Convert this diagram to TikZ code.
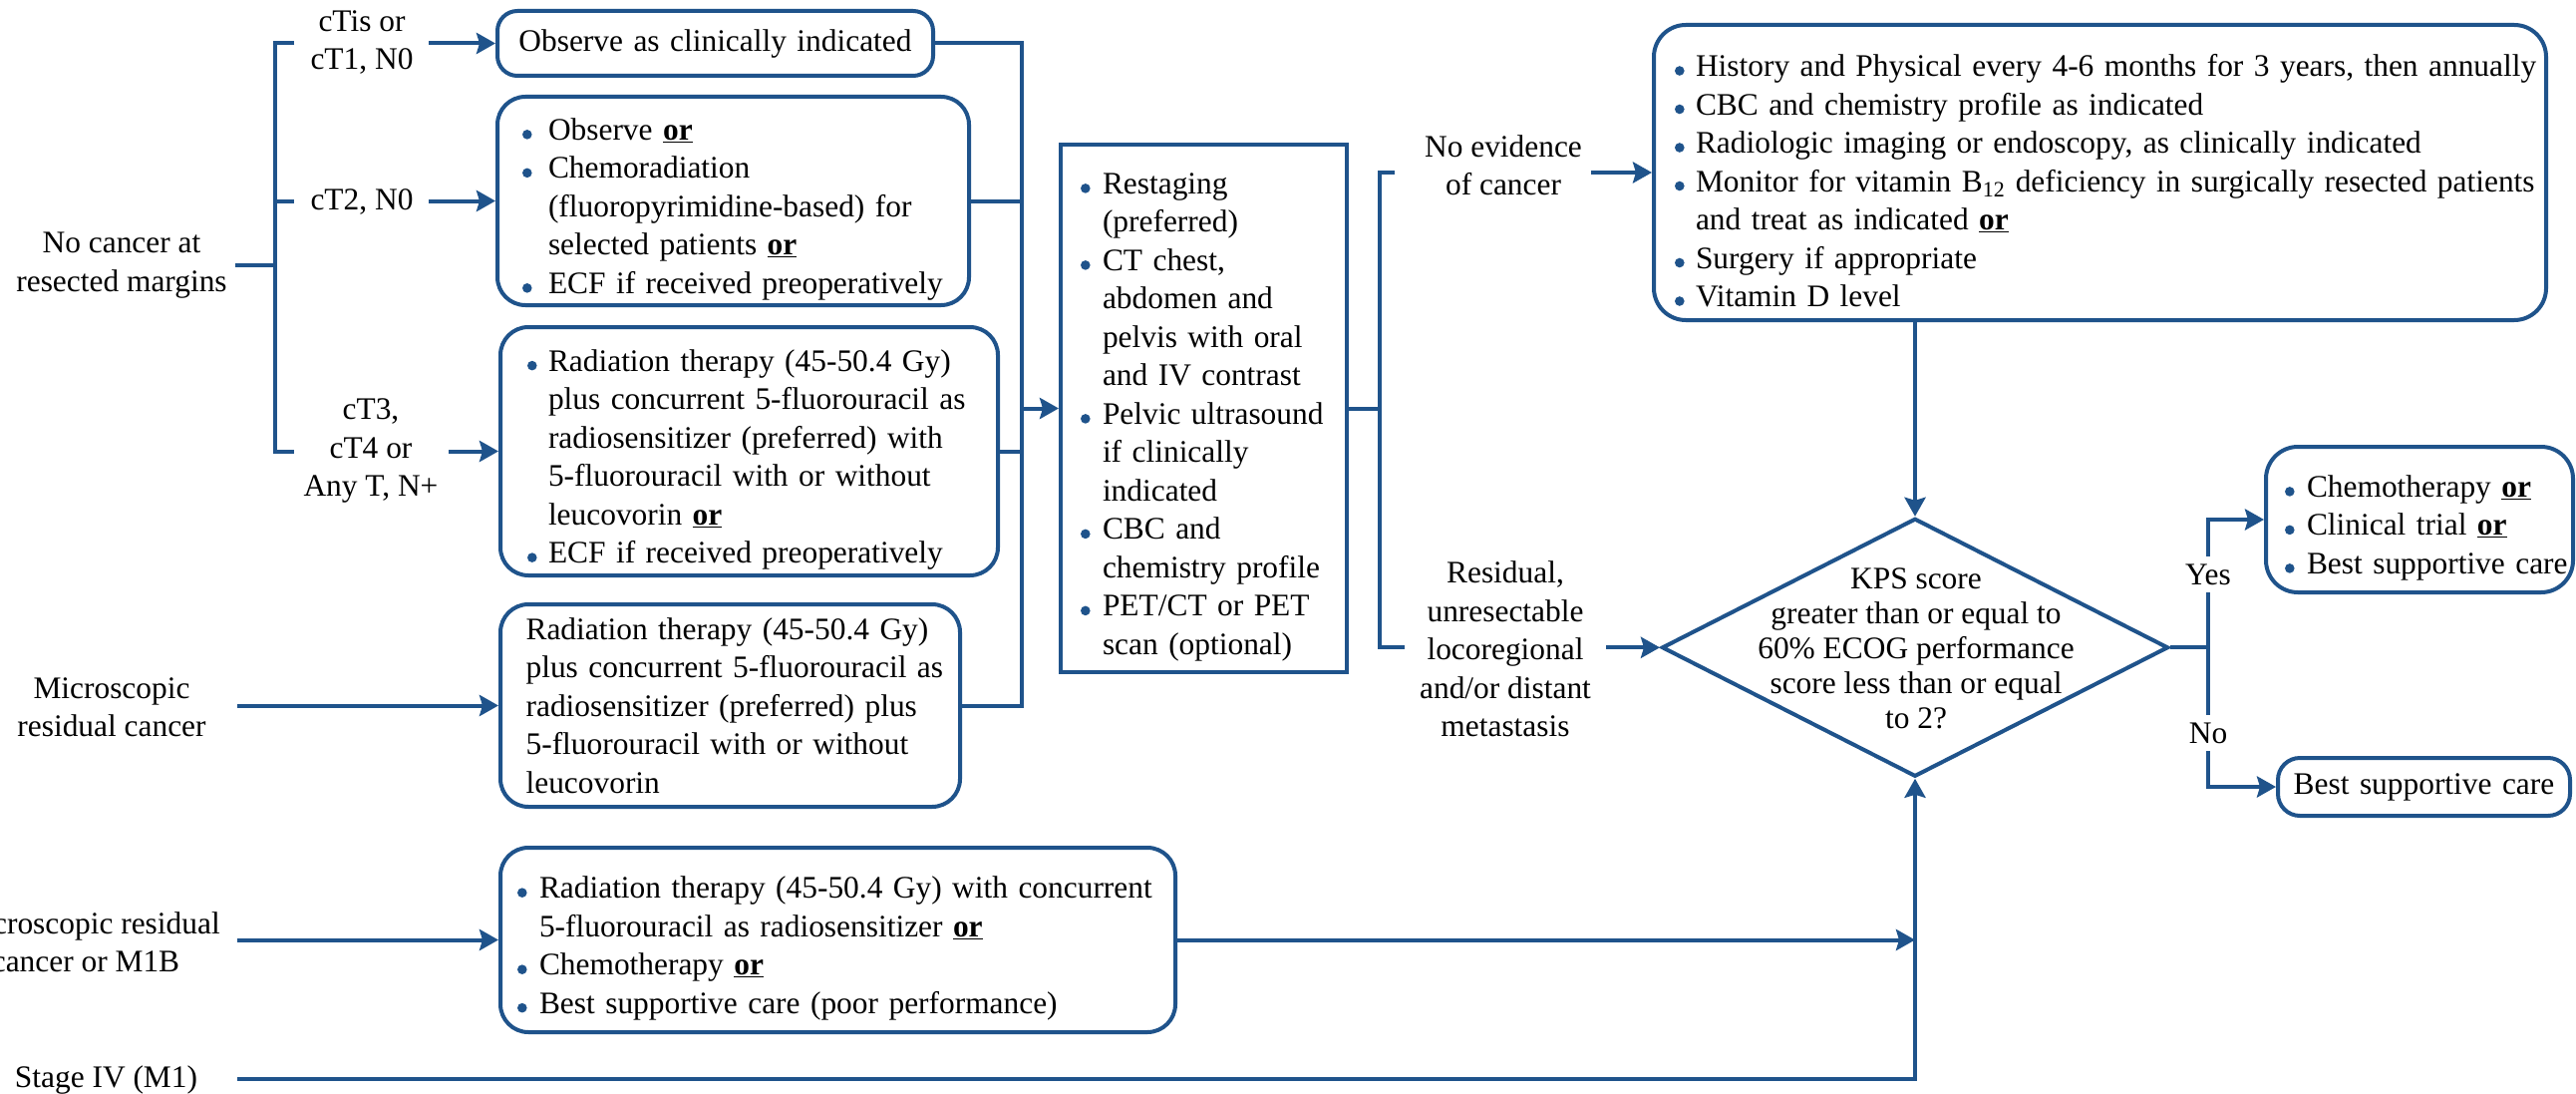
\documentclass[tikz,border=0pt]{standalone}
\usepackage{fontspec}
\setmainfont{Liberation Serif}
\usetikzlibrary{arrows.meta,shapes.geometric}
\definecolor{nblue}{RGB}{31,83,139}

% bullet lists inside the panels
\newlength{\bulw}
\newcommand{\bdot}{\tikz[baseline=0pt]\fill[nblue](0pt,5.5pt) circle[radius=4.8pt];}
\newcommand{\itm}{\par\noindent\hangindent=\bulw\hangafter=1\makebox[\bulw][l]{\bdot}}
\newcommand{\orb}{\underline{\textbf{or}}}
% left margin and bullet width of a panel; lines never wrap on their own
\newcommand{\inset}[2]{\leftskip=#1pt\rightskip=-60pt plus 1fil\hyphenpenalty=10000\setlength{\bulw}{#2pt}}

\begin{document}
\begin{tikzpicture}[x=1pt,y=-1pt,
  txt/.style={font=\fontsize{31.4}{38.5}\selectfont},
  panel/.style 2 args={draw=nblue,line width=4pt,rounded corners=28pt,
    inner xsep=0pt,inner ysep=0pt,align=left,txt,
    minimum width=#1pt,text width=#1pt,minimum height=#2pt},
  lbl/.style={inner sep=0pt,align=center,txt},
  ln/.style={draw=nblue,line width=4pt},
  arr/.style={ln,-{Stealth[length=19pt,width=21pt,inset=3pt]}},
  dia/.style={draw=nblue,line width=4pt,shape=diamond,inner sep=0pt,
    minimum width=508pt,minimum height=259pt}
]
\fill[white] (0,0) rectangle (2584,1097);
\useasboundingbox (0,0) rectangle (2584,1097);

% ---------- left column: entry conditions ----------
\node[lbl] (nocancer) at (122,266) {No cancer at\\resected margins};
\node[lbl] (ctis) at (363,42.3) {cTis or\\cT1, N0};
\node[lbl] (ct2) at (363,202) {cT2, N0};
\node[lbl] (ct3) at (372,452) {cT3,\\cT4 or\\Any T, N+};
\node[lbl] (micro) at (112,709.5) {Microscopic\\residual cancer};
\node[lbl] (macro) at (86,945) {Macroscopic residual\\cancer or M1B};
\node[lbl] (stage) at (106.5,1083) {Stage IV (M1)};

% ---------- first-line treatment panels ----------
\node[panel={437}{65},rounded corners=20pt,align=center] (obs) at (717.5,43.5)
  {Observe as clinically indicated};

\node[panel={473}{209}] (ctwo) at (735.5,201.5) {\inset{25}{26}%
\itm Observe \orb
\itm Chemoradiation\newline (fluoropyrimidine-based) for\newline selected patients \orb
\itm ECF if received preoperatively\par};

\node[panel={499}{249}] (cthree) at (751.5,452.5) {\inset{27}{21}%
\itm Radiation therapy (45-50.4 Gy)\newline plus concurrent 5-fluorouracil as\newline radiosensitizer (preferred) with\newline 5-fluorouracil with or without\newline leucovorin \orb
\itm ECF if received preoperatively\par};

\node[panel={461}{203}] (micbox) at (732.5,707.5) {\inset{25.6}{0}%
Radiation therapy (45-50.4 Gy)\newline plus concurrent 5-fluorouracil as\newline radiosensitizer (preferred) plus\newline 5-fluorouracil with or without\newline leucovorin\par};

\node[panel={677}{185}] (macbox) at (840.5,942.5) {\inset{17}{22}%
\itm Radiation therapy (45-50.4 Gy) with concurrent\newline 5-fluorouracil as radiosensitizer \orb
\itm Chemotherapy \orb
\itm Best supportive care (poor performance)\par};

% ---------- restaging ----------
\node[panel={287}{529},sharp corners] (restage) at (1207.5,409.5) {\inset{20}{22}%
\itm Restaging\newline (preferred)
\itm CT chest,\newline abdomen and\newline pelvis with oral\newline and IV contrast
\itm Pelvic ultrasound\newline if clinically\newline indicated
\itm CBC and\newline chemistry profile
\itm PET/CT or PET\newline scan (optional)\par};

% ---------- outcomes ----------
\node[lbl] (noevid) at (1508,166) {No evidence\\of cancer};
\node[lbl] (resid) at (1510,651) {Residual,\\unresectable\\locoregional\\and/or distant\\metastasis};

\node[panel={895}{296},rounded corners=32pt] (follow) at (2106.5,173) {\inset{21}{21}%
\itm History and Physical every 4-6 months for 3 years, then annually
\itm CBC and chemistry profile as indicated
\itm Radiologic imaging or endoscopy, as clinically indicated
\itm Monitor for vitamin B\textsubscript{12} deficiency in surgically resected patients\newline and treat as indicated \orb
\itm Surgery if appropriate
\itm Vitamin D level\par};

\node[dia] (kps) at (1921,649.3) {};
\node[lbl,font=\fontsize{31.4}{35}\selectfont] (kpst) at (1922,650)
  {KPS score\\greater than or equal to\\60\% ECOG performance\\score less than or equal\\to 2?};

\node[panel={308}{146},rounded corners=32pt] (yesbox) at (2427,521) {\inset{19}{22}%
\itm Chemotherapy \orb
\itm Clinical trial \orb
\itm Best supportive care\par};

\node[panel={293}{58},rounded corners=22pt,align=center] (nobox) at (2431.5,789)
  {Best supportive care};

% ---------- connectors ----------
% bracket after "No cancer at resected margins"
\coordinate (bk) at (276,0);
\draw[ln] ([xshift=8pt]nocancer.east) -- (bk |- nocancer);
\draw[ln] ([xshift=19pt]bk |- obs) -- (bk |- obs) -- (bk |- cthree) -- ([xshift=19pt]bk |- cthree);
\draw[ln] (bk |- ctwo) -- ([xshift=19pt]bk |- ctwo);

\coordinate (ax) at (430,0);
\coordinate (ax3) at (450,0);
\coordinate (lx) at (238,0);
\draw[arr] (ax |- obs) -- (obs.west);
\draw[arr] (ax |- ctwo) -- (ctwo.west);
\draw[arr] (ax3 |- cthree) -- (cthree.west);
\draw[arr] (lx |- micbox) -- (micbox.west);
\draw[arr] (lx |- macbox) -- (macbox.west);

% collector into restaging
\coordinate (col) at (1025,0);
\draw[ln] (obs.east) -- (col |- obs) -- (col |- micbox) -- (micbox.east);
\draw[ln] (ctwo.east) -- (col |- ctwo);
\draw[ln] (cthree.east) -- (col |- cthree);
\draw[arr] (col |- restage) -- (restage.west);

% restaging outcomes
\coordinate (bk2) at (1384,0);
\draw[ln] (restage.east) -- (bk2 |- restage);
\draw[ln] ([xshift=15pt]bk2 |- follow) -- (bk2 |- follow) -- (bk2 |- kps) -- ([xshift=25pt]bk2 |- kps);
\coordinate (nx) at (1596,0);
\coordinate (rx) at (1611,0);
\draw[arr] (nx |- follow) -- (follow.west);
\draw[arr] (rx |- kps) -- (kps.west);

\draw[arr] (kps |- follow.south) -- (kps.north);
\draw[arr] (macbox.east) -- (kps |- macbox);
\coordinate (st) at (238,1081.5);
\draw[arr] (st) -- (st -| kps) -- (kps.south);

% decision branches
\coordinate (yn) at (2215,0);
\draw[ln] (kps.east) -- (yn |- kps);
\draw[arr] (yn |- kps) -- (yn |- yesbox) -- (yesbox.west);
\draw[arr] (yn |- kps) -- (yn |- nobox) -- (nobox.west);
\node[lbl,fill=white,inner xsep=2pt,inner ysep=8pt] (yes) at (2215,576) {Yes};
\node[lbl,fill=white,inner xsep=2pt,inner ysep=8pt] (no) at (2215,735) {No};
\end{tikzpicture}
\end{document}
